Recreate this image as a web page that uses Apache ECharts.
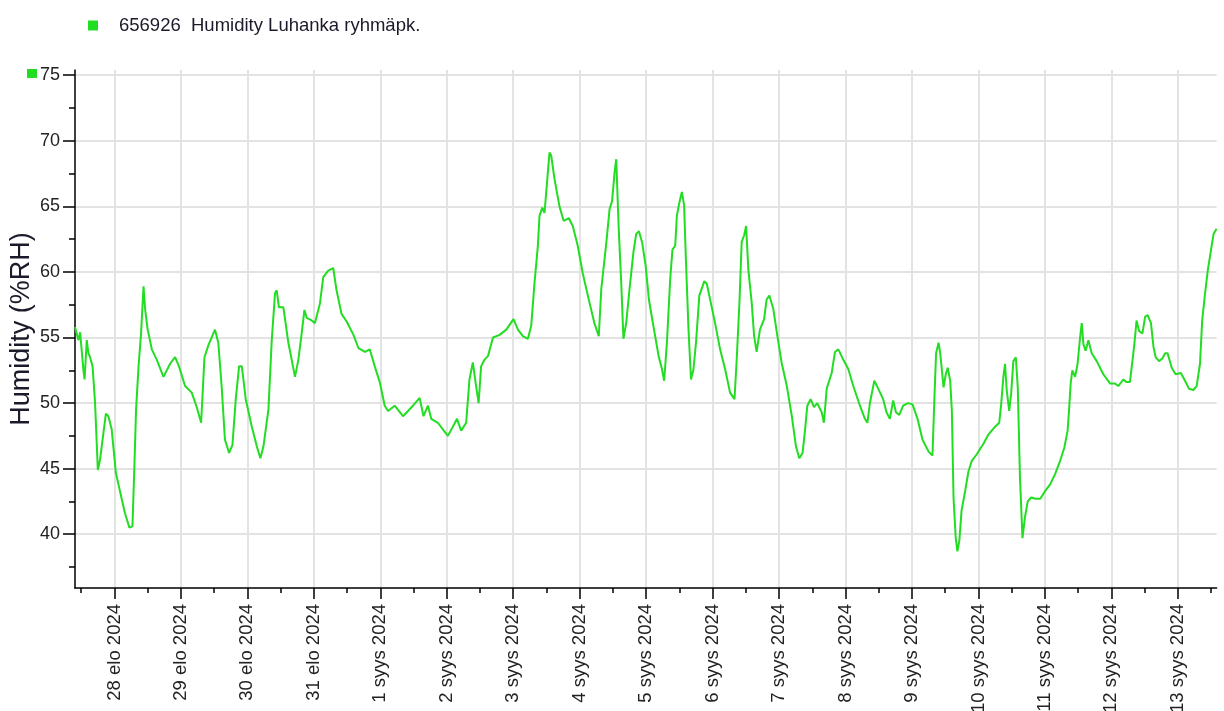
<!DOCTYPE html>
<html>
<head>
<meta charset="utf-8">
<script src="https://cdn.jsdelivr.net/npm/echarts@6/dist/echarts.min.js"></script>
<style>
html,body{margin:0;padding:0;background:#fff;}
#chart{width:1224px;height:711px;}
</style>
</head>
<body>
<div id="chart"></div>
<script>
// ---- data (hours relative to 28 Aug 2024 00:00) ----
const seriesName = '656926  Humidity Luhanka ryhmäpk.';
const hours = [-14.25,-13.0,-12.4,-11.2,-10.8,-10.0,-9.4,-8.8,-7.9,-7.0,-6.0,-5.2,-4.3,-3.1,-2.2,-1.0,0.5,2.6,3.8,5.4,6.5,7.2,7.8,8.7,9.6,10.5,11.1,12.0,13.5,15.3,17.7,20.1,21.9,23.3,25.5,27.9,29.7,31.3,32.5,33.9,36.3,37.5,38.7,39.9,41.4,42.6,43.8,45.0,46.0,47.4,49.6,51.4,52.7,53.8,55.6,56.8,58.0,58.6,59.4,61.0,62.8,65.2,66.4,67.6,68.6,69.4,71.2,72.4,74.2,75.4,77.2,79.0,80.2,82.0,83.9,86.3,88.1,90.5,
92.2,94.0,95.8,97.6,98.8,101.2,104.2,107.8,110.2,111.6,113.2,114.4,116.8,118.6,120.4,122.2,123.7,125.2,127.0,128.2,129.4,130.6,131.5,132.4,133.6,134.9,136.7,139.1,141.5,144.1,145.7,147.5,149.3,150.5,151.7,152.9,153.5,154.5,155.3,156.2,157.1,157.7,158.9,160.7,162.2,164.1,165.5,167.3,169.1,171.5,173.3,174.9,175.8,177.6,178.8,179.7,180.6,181.2,182.1,183.0,183.8,184.8,186.0,187.4,188.4,189.4,190.6,191.8,
193.0,194.6,196.5,197.7,198.5,199.5,200.7,201.5,202.5,203.1,204.0,204.9,205.7,206.4,207.3,208.2,209.1,210.0,211.2,213.0,213.9,215.3,216.9,218.7,220.5,222.3,223.9,224.7,225.7,226.5,227.4,228.1,228.9,230.1,231.0,231.9,233.1,234.6,235.5,236.5,237.9,239.4,240.9,242.8,244.6,246.1,247.3,248.5,249.4,250.2,251.4,252.6,253.8,255.4,256.2,257.2,259.0,260.2,261.4,263.2,265.0,266.8,269.2,271.0,271.9,272.8,274.4,275.8,277.6,278.8,280.0,281.2,282.2,283.4,284.8,286.6,288.2,290.0,291.8,
294.0,295.4,296.1,296.7,297.6,298.2,298.8,299.4,300.2,300.9,301.8,302.4,303.0,303.8,304.4,305.1,305.9,307.2,308.4,309.6,311.4,313.8,315.6,318.0,319.5,320.2,321.0,321.6,322.2,323.1,323.8,324.6,325.5,326.2,327.0,327.9,328.8,329.8,331.0,332.5,334.3,336.1,337.9,339.7,341.5,343.0,344.2,344.7,345.3,345.9,346.9,347.8,348.7,349.3,349.9,350.7,351.7,352.9,354.7,357.1,359.5,361.3,362.5,364.3,365.5,366.7,367.6,368.3,369.1,370.0,371.2,372.2,373.1,374.3,375.2,376.0,377.2,378.4,379.4,380.3,381.8,383.2,385.1,386.6,388.0,389.6,390.8,392.0,392.8,393.8,394.8,396.0,396.9,398.0];
const humidity = [55.8,54.8,55.4,52.5,51.8,54.8,53.8,53.5,52.8,50.0,44.9,45.7,47.2,49.2,49.0,48.0,44.7,42.7,41.6,40.5,40.6,45.2,49.5,52.8,55.3,58.9,57.1,55.6,54.1,53.3,52.0,53.0,53.5,52.8,51.3,50.8,49.7,48.5,53.5,54.4,55.6,54.6,51.3,47.2,46.2,46.8,50.3,52.8,52.8,50.3,48.2,46.7,45.8,46.7,49.5,54.8,58.4,58.6,57.3,57.3,54.6,52.0,53.3,55.3,57.1,56.5,56.3,56.1,57.6,59.6,60.1,60.3,58.6,56.8,56.2,55.2,54.2,53.9,
54.1,52.8,51.6,49.8,49.4,49.8,49.0,49.8,50.4,49.0,49.8,48.8,48.5,48.0,47.5,48.2,48.8,47.9,48.5,51.8,53.1,51.3,50.0,52.8,53.3,53.6,55.0,55.2,55.6,56.4,55.6,55.1,54.9,55.9,59.2,62.0,64.3,64.9,64.5,66.8,69.1,68.9,67.1,65.0,63.9,64.1,63.5,62.0,59.9,57.7,56.1,55.1,58.7,62.2,64.8,65.4,67.6,68.6,63.3,59.2,54.9,56.1,58.7,61.5,62.9,63.1,62.2,60.5,
57.9,55.9,53.6,52.6,51.7,54.6,59.5,61.7,62.0,64.3,65.3,66.1,65.1,60.7,55.6,51.8,52.6,54.6,58.2,59.3,59.1,57.7,56.1,54.1,52.6,50.8,50.3,53.3,57.7,62.3,62.8,63.5,60.2,57.7,55.1,53.9,55.6,56.4,57.9,58.2,57.2,55.1,53.1,51.3,49.0,46.7,45.8,46.2,48.0,49.8,50.3,49.7,50.0,49.3,48.5,51.1,52.3,53.9,54.1,53.3,52.6,51.3,49.8,48.8,48.5,50.0,51.7,51.1,50.3,49.3,48.8,50.2,49.3,49.1,49.8,50.0,49.9,48.8,47.2,
46.3,46.0,50.4,53.8,54.6,53.8,52.5,51.2,52.2,52.7,51.7,49.4,42.8,39.7,38.7,39.5,41.8,43.3,44.8,45.6,46.1,46.9,47.6,48.2,48.5,49.9,52.0,53.0,51.0,49.4,50.7,53.2,53.5,51.2,44.3,39.7,41.3,42.5,42.8,42.7,42.7,43.3,43.8,44.6,45.6,46.6,47.9,49.4,51.5,52.5,52.0,53.0,55.0,56.1,54.5,54.0,54.8,53.8,53.2,52.2,51.5,51.5,51.3,51.8,51.6,51.6,53.2,54.5,56.3,55.5,55.3,56.6,56.7,56.1,54.3,53.5,53.2,53.4,53.8,53.8,52.7,52.2,52.3,51.7,51.1,51.0,51.3,53.0,56.3,58.3,60.1,61.7,62.9,63.3];

const xTickLabels = ['28 elo 2024','29 elo 2024','30 elo 2024','31 elo 2024','1 syys 2024','2 syys 2024','3 syys 2024','4 syys 2024','5 syys 2024','6 syys 2024','7 syys 2024','8 syys 2024','9 syys 2024','10 syys 2024','11 syys 2024','12 syys 2024','13 syys 2024'];
const yTicks = [40,45,50,55,60,65,70,75];
const yMin = 35.9, yMax = 75.4;
const xMinHours = -14.25, xMaxHours = 398.0;

// ---- build ----
const data = hours.map((h, i) => [h, humidity[i]]);
const dayHours = xTickLabels.map((_, i) => i * 24);
const noonHours = [-12].concat(dayHours.map(h => h + 12));
const yMinor = yTicks.map(v => v - 2.5);
const labelMap = {};
dayHours.forEach((h, i) => { labelMap[h] = xTickLabels[i]; });

const green = '#22dd22';
const font = '"Liberation Sans", Arial, sans-serif';
const chart = echarts.init(document.getElementById('chart'), null, { renderer: 'canvas' });
chart.setOption({
  animation: false,
  backgroundColor: '#ffffff',
  grid: { left: 75, right: 7.4, top: 70, bottom: 123, containLabel: false, outerBoundsMode: 'none' },
  legend: {
    data: [seriesName], left: 83, top: 11, icon: 'rect', itemWidth: 10, itemHeight: 10,
    textStyle: { fontFamily: font, fontSize: 18.5, color: '#1a1a2a', padding: [0, 0, 0, 16] },
    selectedMode: false
  },
  graphic: [{ type: 'rect', left: 27, top: 69, shape: { width: 10, height: 9 }, style: { fill: green } }],
  xAxis: [{
    type: 'value', min: xMinHours, max: xMaxHours,
    axisLine: { show: true, onZero: false, lineStyle: { color: '#000', width: 1.5 } },
    axisTick: { show: true, customValues: dayHours, length: 11, lineStyle: { color: '#000', width: 1.5 } },
    axisLabel: {
      customValues: dayHours, rotate: 90, margin: 16, fontFamily: font, fontSize: 18.5, color: '#222',
      formatter: v => labelMap[v] || ''
    },
    splitLine: { show: true, lineStyle: { color: '#e3e3e3', width: 2 } }
  }, {
    type: 'value', min: xMinHours, max: xMaxHours, position: 'bottom',
    axisLine: { show: false, onZero: false },
    axisTick: { show: true, customValues: noonHours, length: 5, lineStyle: { color: '#000', width: 1.5 } },
    axisLabel: { show: false }, splitLine: { show: false }
  }],
  yAxis: [{
    type: 'value', min: yMin, max: yMax,
    name: 'Humidity (%RH)', nameLocation: 'middle', nameGap: 40, nameMoveOverlap: false,
    nameTextStyle: { fontFamily: font, fontSize: 27, color: '#1a1a2a' },
    axisLine: { show: true, onZero: false, lineStyle: { color: '#000', width: 1.5 } },
    axisTick: { show: true, customValues: yTicks, length: 12, lineStyle: { color: '#000', width: 1.5 } },
    axisLabel: { customValues: yTicks, margin: 15, fontFamily: font, fontSize: 18, color: '#222' },
    splitLine: { show: true, lineStyle: { color: '#e3e3e3', width: 2 } }
  }, {
    type: 'value', min: yMin, max: yMax, position: 'left',
    axisLine: { show: false, onZero: false },
    axisTick: { show: true, customValues: yMinor, length: 6, lineStyle: { color: '#000', width: 1.5 } },
    axisLabel: { show: false }, splitLine: { show: false }
  }],
  series: [{
    name: seriesName, type: 'line', data: data, xAxisIndex: 0, yAxisIndex: 0,
    showSymbol: false, symbol: 'none', color: green,
    lineStyle: { color: green, width: 2 }
  }]
});
</script>
</body>
</html>
